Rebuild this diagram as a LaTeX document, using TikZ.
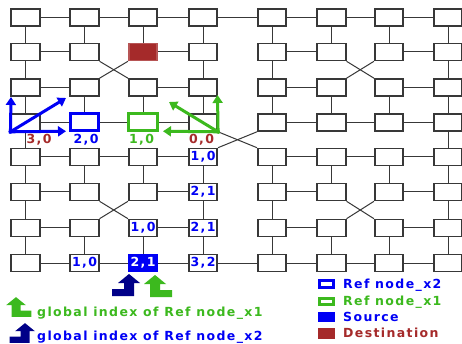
\documentclass[tikz,border=0pt]{standalone}
\usepackage{fontspec}
\usetikzlibrary{arrows.meta}
\newfontfamily\labfont[LetterSpace=11]{DejaVu Sans}
\definecolor{meshgray}{HTML}{383838}
\definecolor{refblue}{HTML}{0000F5}
\definecolor{refgreen}{HTML}{3CB91E}
\definecolor{destred}{HTML}{A52A2A}
\definecolor{navyblue}{HTML}{000088}

% text printed inside some routers, looked up by column/row digits
\newcommand\setlbl[2]{\expandafter\def\csname rlbl#1\endcsname{#2}}
\newcommand\getlbl[1]{\ifcsname rlbl#1\endcsname\csname rlbl#1\endcsname\fi}
\setlbl{45}{1,0}
\setlbl{46}{2,1}
\setlbl{47}{2,1}
\setlbl{37}{1,0}
\setlbl{28}{1,0}
\setlbl{38}{2,1}
\setlbl{48}{3,2}

\begin{document}
\begin{tikzpicture}[x=1pt,y=-1pt,
  lab/.style={font=\labfont\bfseries\fontsize{12.5}{14}\selectfont},
  router/.style={lab, draw=meshgray, line width=1.6pt, fill=white,
    minimum width=28.5pt, minimum height=17pt, inner sep=0pt, text=refblue},
  link/.style={draw=meshgray, line width=1pt},
  refxtwo/.style={draw=refblue, line width=3pt},
  refxone/.style={draw=refgreen, line width=3pt},
  source/.style={fill=refblue, draw=refblue, text=white},
  dest/.style={fill=destred, draw=destred!80!white},
  n24/.style={refxtwo}, n34/.style={refxone}, n38/.style={source}, n32/.style={dest},
  axis/.style={line width=3pt, line cap=rect, -{Triangle[length=8pt,width=10pt]}},
  legtext/.style={lab, inner sep=0pt, anchor=base west},
  pics/upturn/.style={code={\fill (0,-11) -- (11,-2) -- (5,-2) -- (5,11) -- (-17,11)
      -- (-17,4) -- (-5,4) -- (-5,-2) -- (-11,-2) -- cycle;}},
]
\fill[white] (0,0) rectangle (462,344);
\useasboundingbox (0,0) rectangle (462,344);

% 8 x 8 routers: n<column><row>
\foreach \x [count=\i] in {25.5,84.5,143,203,272,331.5,389,448}{
  \foreach \y [count=\j] in {17.5,52,87.5,122.5,157,192,228,263}{
    \node[router, n\i\j/.try] (n\i\j) at (\x,\y) {\getlbl{\i\j}};
  }
}

% links inside each 4 x 4 block: outer ring, 2 x 2 rings, crossed centre
\foreach \ox/\oy in {0/0,4/0,0/4,4/4}{
  \foreach \ia/\ja/\ib/\jb in {1/1/2/1,2/1/3/1,3/1/4/1,1/4/2/4,2/4/3/4,3/4/4/4,
      1/2/2/2,3/2/4/2,1/3/2/3,3/3/4/3,
      1/1/1/2,1/2/1/3,1/3/1/4,4/1/4/2,4/2/4/3,4/3/4/4,
      2/1/2/2,3/1/3/2,2/3/2/4,3/3/3/4}{
    \pgfmathtruncatemacro\ua{\ox+\ia}
    \pgfmathtruncatemacro\va{\oy+\ja}
    \pgfmathtruncatemacro\ub{\ox+\ib}
    \pgfmathtruncatemacro\vb{\oy+\jb}
    \draw[link] (n\ua\va) -- (n\ub\vb);
  }
  \pgfmathtruncatemacro\ua{\ox+2}
  \pgfmathtruncatemacro\ub{\ox+3}
  \pgfmathtruncatemacro\va{\oy+2}
  \pgfmathtruncatemacro\vb{\oy+3}
  \draw[link] (n\ua\va.south east) -- (n\ub\vb.north west);
  \draw[link] (n\ub\va.south west) -- (n\ua\vb.north east);
}

% links between the four blocks
\draw[link] (n41) -- (n51);
\draw[link] (n14) -- (n15);
\draw[link] (n48) -- (n58);
\draw[link] (n84) -- (n85);
\draw[link] (n44.south east) -- (n55.north west);
\draw[link] (n45.north east) -- (n54.south west);

% local indices under row 4
\node[lab, text=destred]  (ax30) at (39,139.5)    {3,0};
\node[lab, text=refblue]  (ax20) at (86,139.5)    {2,0};
\node[lab, text=refgreen] (ax10) at (141.5,139.5) {1,0};
\node[lab, text=destred]  (ax00) at (201.5,139.5) {0,0};

% axes of Ref node_x2
\coordinate (bo) at (n14.south west);
\coordinate (bup) at (11,97);
\coordinate (bdiag) at (66,98);
\coordinate (bright) at (66,131.25);
\draw[axis, refblue] (bo) -- (bup);
\draw[axis, refblue] (bo) -- (bdiag);
\draw[axis, refblue] (bo) -- (bright);

% axes of Ref node_x1
\coordinate (go) at (n44.south east);
\coordinate (gup) at (217.5,95);
\coordinate (gdiag) at (169,102);
\coordinate (gleft) at (163,131.25);
\draw[axis, refgreen] (go) -- (gup);
\draw[axis, refgreen] (go) -- (gdiag);
\draw[axis, refgreen] (go) -- (gleft);

% markers under the source
\pic[fill=navyblue] at (129,285) {upturn};
\pic[fill=refgreen, xscale=-1] at (155,286) {upturn};

% legend, left
\pic[fill=refgreen, xscale=-0.9, yscale=0.9] at (16,307) {upturn};
\node[legtext, text=refgreen] (lgone) at (37,316.5) {global index of Ref node\_x1};
\pic[fill=navyblue, xscale=0.9, yscale=0.9] at (25,333) {upturn};
\node[legtext, text=refblue] (lgtwo) at (37,340) {global index of Ref node\_x2};

% legend, right
\draw[refblue, line width=3pt] (319.5,280.5) rectangle (333.5,287.5);
\node[legtext, text=refblue] (kxtwo) at (343,288) {Ref node\_x2};
\draw[refgreen, line width=3pt] (319.5,298.5) rectangle (333.5,304.5);
\node[legtext, text=refgreen] (kxone) at (343,305) {Ref node\_x1};
\fill[refblue] (318,312) rectangle (335,322);
\node[legtext, text=refblue] (ksrc) at (343,321.5) {Source};
\fill[destred] (318,328) rectangle (335,339);
\node[legtext, text=destred] (kdst) at (343,337.5) {Destination};
\end{tikzpicture}
\end{document}
